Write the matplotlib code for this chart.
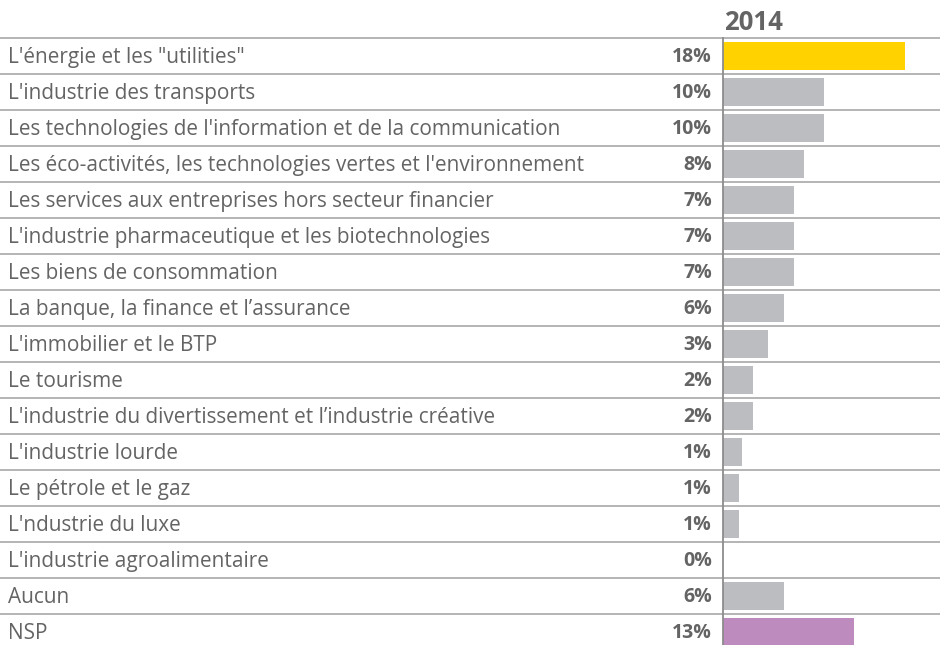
import matplotlib
matplotlib.use("Agg")
import matplotlib.pyplot as plt

categories = [
    "L'énergie et les \"utilities\"",
    "L'industrie des transports",
    "Les technologies de l'information et de la communication",
    "Les éco-activités, les technologies vertes et l'environnement",
    "Les services aux entreprises hors secteur financier",
    "L'industrie pharmaceutique et les biotechnologies",
    "Les biens de consommation",
    "La banque, la finance et l’assurance",
    "L'immobilier et le BTP",
    "Le tourisme",
    "L'industrie du divertissement et l’industrie créative",
    "L'industrie lourde",
    "Le pétrole et le gaz",
    "L'ndustrie du luxe",
    "L'industrie agroalimentaire",
    "Aucun",
    "NSP",
]
bar_values = [18, 10, 10, 8, 7, 7, 7, 6, 4.5, 3, 3, 1.9, 1.6, 1.6, 0, 6, 13]
value_labels = ["18%", "10%", "10%", "8%", "7%", "7%", "7%", "6%", "3%", "2%",
                "2%", "1%", "1%", "1%", "0%", "6%", "13%"]
year_label = "2014"

GRAY = "#BCBDC0"
colors = [GRAY] * len(categories)
colors[0] = "#FFD200"
colors[-1] = "#BD8BBE"
TEXT = "#646464"

plt.rcParams['font.family'] = ['Open Sans', 'DejaVu Sans']

W, H = 940, 645
fig = plt.figure(figsize=(W / 100, H / 100), dpi=100)
ax = fig.add_axes([0, 0, 1, 1])
px_per_unit = 10.1
x0 = 723
ax.set_xlim(-x0 / px_per_unit, (W - x0) / px_per_unit)
row_h = 36
y_first = 56
ax.set_ylim((H - y_first) / row_h, (0 - y_first) / row_h)
ax.axis("off")

n = len(categories)
ys = list(range(n))
ax.barh(ys, bar_values, height=0.76, color=colors, zorder=2)

for i in range(n):
    ax.axhline(i - 0.5, color="#B4B4B4", lw=1.4, zorder=1)
    ax.text((8 - x0) / px_per_unit, i + 0.04, categories[i], ha="left", va="center",
            fontsize=14.95, color=TEXT)
    ax.text((712 - x0) / px_per_unit, i + 0.04, value_labels[i], ha="right", va="center",
            fontsize=14.0, color=TEXT, fontweight="bold")

ax.plot([0, 0], [-0.5, (H - y_first) / row_h], color="#8C8C8C", lw=1.3, zorder=3)
ax.text((724 - x0) / px_per_unit, (22 - y_first) / row_h, year_label, ha="left",
        va="center", fontsize=18.5, color=TEXT, fontweight="bold")

fig.savefig("out.png", dpi=100)
